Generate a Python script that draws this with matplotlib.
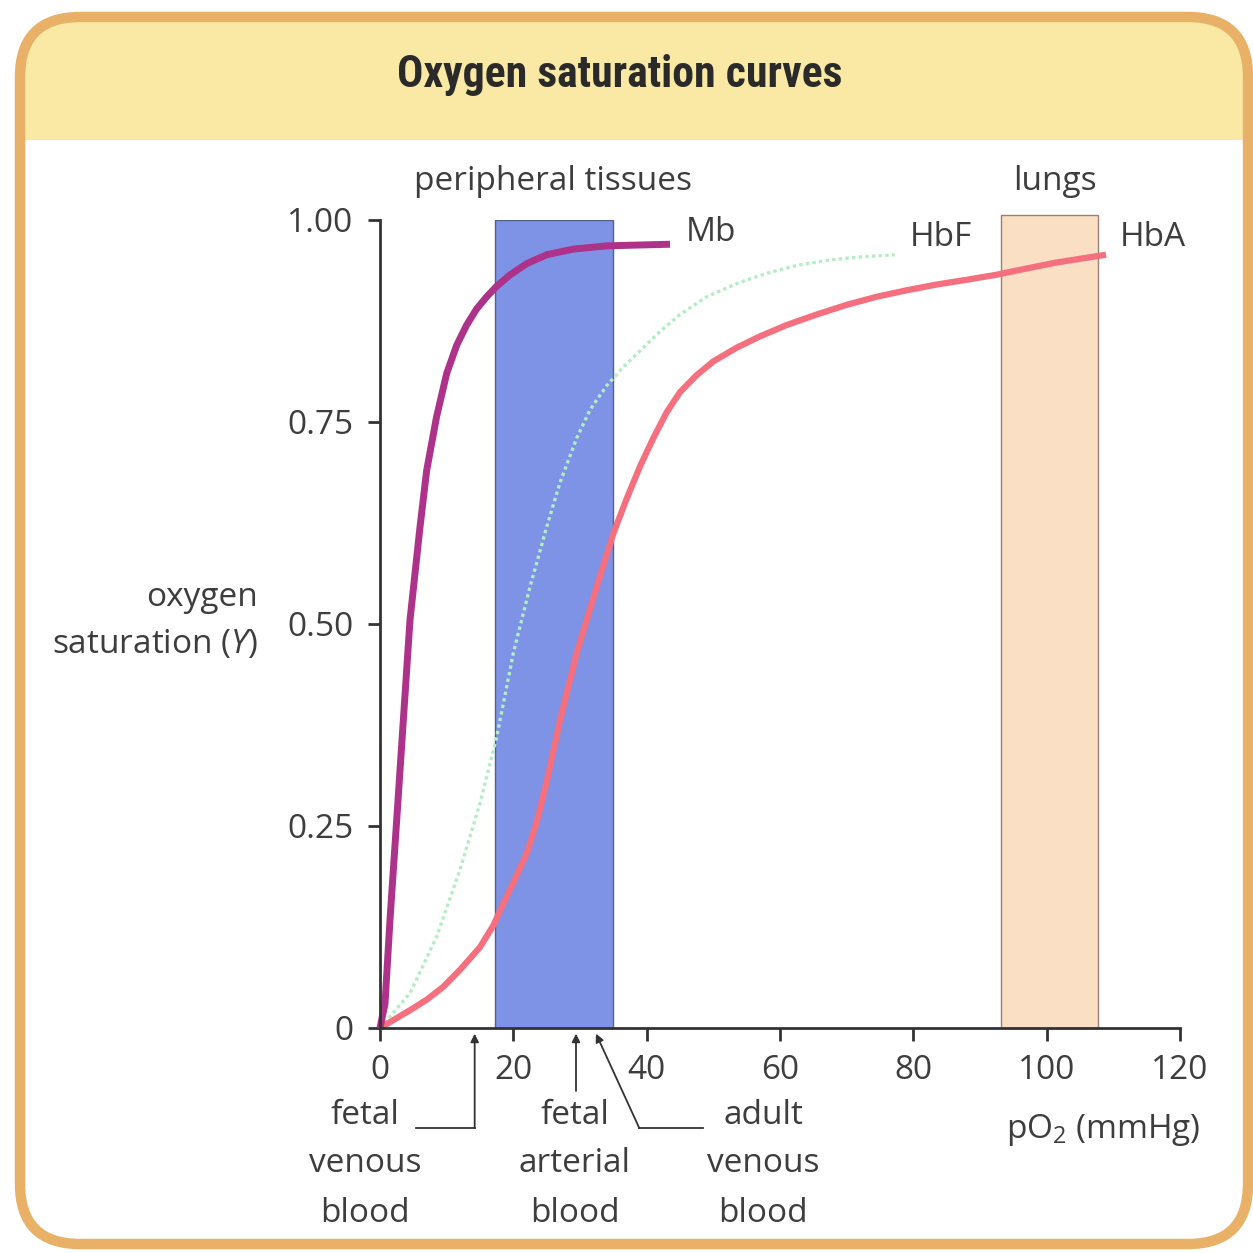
import matplotlib
matplotlib.use("Agg")
import matplotlib.pyplot as plt
from matplotlib.patches import FancyBboxPatch, Rectangle

# data
mb_x = [0, 0.75, 1.5, 2.5, 3.5, 4.5, 6, 7, 8.5, 10, 11.5, 13, 14.5, 16, 17.5, 19.5, 22, 25, 29, 34, 43.5]
mb_y = [0, 0.03, 0.134, 0.257, 0.381, 0.505, 0.62, 0.69, 0.757, 0.81, 0.845, 0.87, 0.89, 0.905, 0.918, 0.932, 0.946, 0.957, 0.964, 0.968, 0.97]

hbf_x = [0, 4.5, 8.5, 12, 15, 17.5, 20, 22.5, 25, 27, 29.5, 31.5, 34, 36.5, 39, 42, 45, 49, 53.7, 58, 62.6, 67, 71.6, 77.2]
hbf_y = [0, 0.043, 0.113, 0.196, 0.278, 0.36, 0.464, 0.546, 0.62, 0.675, 0.73, 0.765, 0.795, 0.818, 0.838, 0.862, 0.883, 0.905, 0.922, 0.934, 0.944, 0.95, 0.954, 0.957]

hba_x = [0, 4.5, 7, 9.5, 12, 15, 17, 18.5, 20, 22, 23.5, 25, 27, 29.5, 32.5, 35, 37, 39, 41, 43, 45, 47.5, 50, 53.5, 57, 61, 65.5, 70, 74.5, 79, 83.4, 88, 92.3, 97, 101.2, 105, 108.9]
hba_y = [0, 0.022, 0.035, 0.051, 0.072, 0.1, 0.127, 0.154, 0.18, 0.216, 0.255, 0.305, 0.381, 0.464, 0.546, 0.612, 0.655, 0.695, 0.73, 0.762, 0.787, 0.808, 0.825, 0.842, 0.856, 0.87, 0.883, 0.895, 0.905, 0.913, 0.92, 0.926, 0.932, 0.94, 0.947, 0.952, 0.957]

tissue_range = (17.25, 35.0)
lung_range = (93.2, 107.7)

x_ticks = [0, 20, 40, 60, 80, 100, 120]
y_ticks = [0, 0.25, 0.5, 0.75, 1.0]
y_ticklabels = ["0", "0.25", "0.50", "0.75", "1.00"]

# arrow tips on the x axis
fetal_venous = 14.2
fetal_arterial = 29.4
adult_venous = 32.4

plt.rcParams['font.family'] = ['Open Sans', 'DejaVu Sans']
plt.rcParams['mathtext.fontset'] = 'custom'
plt.rcParams['mathtext.rm'] = 'Open Sans'
plt.rcParams['mathtext.it'] = 'Open Sans:italic'

W = 1253
txt = '#3d3d3d'
fs = 24


def fx(px):
    return px / W


def fy(py):
    return 1 - py / W


fig = plt.figure(figsize=(12.53, 12.53), dpi=100)
fig.patch.set_facecolor('white')

# rounded frame with yellow header
box = (fx(20), fy(1244))
bw, bh = fx(1248) - fx(20), fy(17) - fy(1244)
outer = FancyBboxPatch(box, bw, bh, boxstyle='round,pad=0,rounding_size=0.048',
                       transform=fig.transFigure, facecolor='white', edgecolor='none', zorder=-3)
fig.patches.append(outer)
header = Rectangle((0, fy(140)), 1, 1 - fy(140), transform=fig.transFigure,
                   facecolor='#f9e9a4', edgecolor='none', zorder=-2)
header.set_clip_path(outer)
fig.patches.append(header)
border = FancyBboxPatch(box, bw, bh, boxstyle='round,pad=0,rounding_size=0.048',
                        transform=fig.transFigure, facecolor='none', edgecolor='#e9b168',
                        lw=7.5, zorder=-1)
fig.patches.append(border)

fig.text(fx(620), fy(75), 'Oxygen saturation curves', ha='center', va='center',
         fontsize=31.5, fontweight='bold', color='#2a2a2a',
         family=['Roboto Condensed', 'Roboto', 'DejaVu Sans'])

ax = fig.add_axes([fx(380), fy(1028), fx(1180) - fx(380), fy(220) - fy(1028)])
ax.set_facecolor('none')
ax.set_xlim(0, 120)
ax.set_ylim(0, 1.0)

# shaded regions
ax.add_patch(Rectangle((tissue_range[0], 0), tissue_range[1] - tissue_range[0], 1.0,
                       facecolor='#7e92e6', edgecolor='#55608a', lw=1, zorder=1))
ax.add_patch(Rectangle((lung_range[0], 0), lung_range[1] - lung_range[0], 1.006,
                       facecolor='#fbdfc4', edgecolor='#9a8072', lw=1, zorder=1, clip_on=False))

# curves
ax.plot(hbf_x, hbf_y, color='#b4ecc4', lw=2.4, ls=(0, (1, 1)), zorder=3, clip_on=False)
ax.plot(hba_x, hba_y, color='#f4707e', lw=4.5, zorder=4, clip_on=False,
        solid_capstyle='butt', solid_joinstyle='round')
ax.plot(mb_x, mb_y, color='#ad3289', lw=5, zorder=5, clip_on=False,
        solid_capstyle='butt', solid_joinstyle='round')

ax.text(45.8, 0.985, 'Mb', fontsize=fs, color=txt, va='center', ha='left')
ax.text(79.5, 0.978, 'HbF', fontsize=fs, color=txt, va='center', ha='left')
ax.text(111, 0.978, 'HbA', fontsize=fs, color=txt, va='center', ha='left')

# axes styling
for s in ['top', 'right']:
    ax.spines[s].set_visible(False)
for s in ['left', 'bottom']:
    ax.spines[s].set_color('#333333')
    ax.spines[s].set_linewidth(2)
    ax.spines[s].set_zorder(6)
ax.set_xticks(x_ticks)
ax.set_xticklabels([str(v) for v in x_ticks])
ax.set_yticks(y_ticks)
ax.set_yticklabels(y_ticklabels)
ax.tick_params(direction='out', length=9, width=2, color='#333333',
               labelsize=fs, labelcolor=txt, pad=10)

# region labels
fig.text(fx(553), fy(182), 'peripheral tissues', ha='center', va='center', fontsize=fs, color=txt)
fig.text(fx(1055), fy(182), 'lungs', ha='center', va='center', fontsize=fs, color=txt)

fig.text(fx(258), fy(621), 'oxygen\nsaturation ($\\it{Y}$)', ha='right', va='center',
         multialignment='right', fontsize=fs, color=txt, linespacing=1.6)
fig.text(fx(1103), fy(1130), 'pO$_\\mathrm{2}$ (mmHg)', ha='center', va='center',
         fontsize=fs, color=txt)

# arrows under the x axis
akw = dict(arrowstyle='-|>', color='#333333', lw=1.3, mutation_scale=12,
           shrinkA=0, shrinkB=0)
ax.annotate('', xy=(fetal_venous, -0.007), xytext=(fetal_venous, -0.124),
            arrowprops=akw, annotation_clip=False)
ax.plot([5.4, fetal_venous], [-0.124, -0.124], color='#333333', lw=1.3, clip_on=False)
ax.annotate('', xy=(fetal_arterial, -0.007), xytext=(fetal_arterial, -0.078),
            arrowprops=akw, annotation_clip=False)
ax.annotate('', xy=(adult_venous, -0.007), xytext=(38.9, -0.124),
            arrowprops=akw, annotation_clip=False)
ax.plot([38.9, 48.4], [-0.124, -0.124], color='#333333', lw=1.3, clip_on=False)

for cx, words in [(365, ['fetal', 'venous', 'blood']),
                  (575, ['fetal', 'arterial', 'blood']),
                  (763, ['adult', 'venous', 'blood'])]:
    for i, w in enumerate(words):
        fig.text(fx(cx), fy(1115 + 49 * i), w, ha='center', va='center', fontsize=fs, color=txt)

fig.savefig('out.png', dpi=100, facecolor='white')
